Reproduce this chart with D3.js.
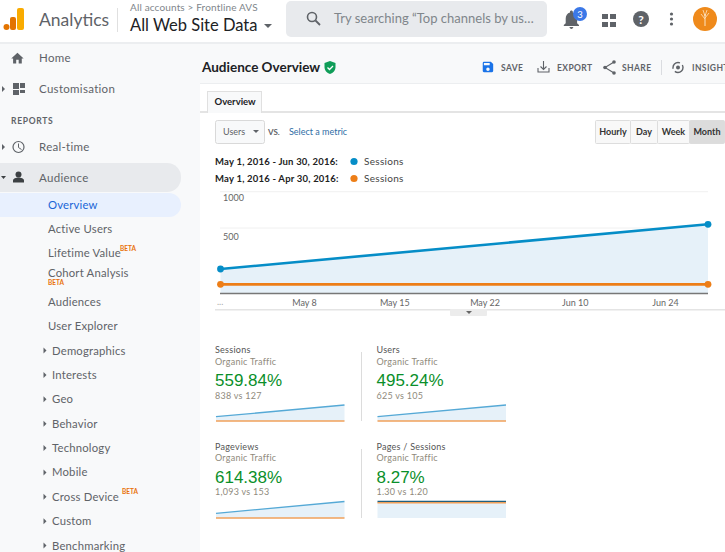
<!doctype html>
<html>
<head>
<meta charset="utf-8"/>
<title>Audience Overview</title>
<script src="https://d3js.org/d3.v7.min.js"></script>
<style>
  html, body { margin: 0; padding: 0; background: #fff; overflow: hidden; }
  svg { display: block; font-family: Lato, Roboto, sans-serif; }
</style>
</head>
<body>
<div id="chart"></div>
<script>
// ---- data ----
var periods = ["May", "Jun"];
var sessionsCurrent = [187, 551];
var sessionsPrevious = [70, 70];
var yTicks = [1000, 500];
var xTickLabels = ["May 8", "May 15", "May 22", "Jun 10", "Jun 24"];

var legendDates = ["May 1, 2016 - Jun 30, 2016:", "May 1, 2016 - Apr 30, 2016:"];
var intervals = ["Hourly", "Day", "Week", "Month"];

var cardNames = ["Sessions", "Users", "Pageviews", "Pages / Sessions"];
var cardPercents = ["559.84%", "495.24%", "614.38%", "8.27%"];
var cardCompares = ["838 vs 127", "625 vs 105", "1,093 vs 153", "1.30 vs 1.20"];
// sparkline heights on a 0-100 scale
var sparkCurrent = [[27, 100], [27, 100], [28, 100], [100, 100]];
var sparkPrevious = [[0, 0], [0, 0], [0, 0], [92, 92]];

var navTop = [["Home", 58], ["Customisation", 89], ["Real-time", 147], ["Audience", 178]];
var navAudience = [["Overview", 205], ["Active Users", 229], ["Lifetime Value", 253], ["Cohort Analysis", 273], ["Audiences", 302], ["User Explorer", 326]];
var navSub = ["Demographics", "Interests", "Geo", "Behavior", "Technology", "Mobile", "Cross Device", "Custom", "Benchmarking"];

var BLUE = "#058dc7", ORANGE = "#ed7e17", GREY = "#5f6368";

var svg = d3.select("#chart").append("svg").attr("width", 725).attr("height", 552);

function rect(x, y, w, h, fill, r) {
  return svg.append("rect").attr("x", x).attr("y", y).attr("width", w).attr("height", h)
    .attr("fill", fill).attr("rx", r || 0);
}
function text(x, y, s, size, color, weight) {
  return svg.append("text").attr("x", x).attr("y", y).text(s)
    .attr("font-size", size).attr("fill", color).attr("font-weight", weight || 400);
}
function icon(d, x, y, scale, fill) {
  return svg.append("path").attr("d", d).attr("fill", fill)
    .attr("transform", "translate(" + x + "," + y + ") scale(" + scale + ")");
}
function tri(points, fill) {
  svg.append("polygon").attr("points", points).attr("fill", fill);
}

// backgrounds
rect(0, 0, 725, 552, "#fff");
rect(0, 43, 200, 509, "#f8f9fa");
rect(200, 44, 525, 39, "#f8f9fa");
rect(0, 42, 725, 2, "#eceef0");
rect(200, 83, 525, 1, "#eceef0");

// header
rect(17, 8, 7, 22, "#f9ab00", 2);
rect(10, 17, 6, 13, "#e37400", 2);
svg.append("circle").attr("cx", 6.5).attr("cy", 27).attr("r", 3).attr("fill", "#e37400");
text(39, 26, "Analytics", 17.5, GREY);
rect(117, 8, 1, 24, "#e0e0e0");
text(130, 11, "All accounts > Frontline AVS", 10, "#80868b").attr("letter-spacing", 0.15);
text(130, 31, "All Web Site Data", 16.5, "#202124");
tri("264,24 272,24 268,28", GREY);
rect(286, 1, 261, 36, "#e8eaed", 5);
svg.append("circle").attr("cx", 312).attr("cy", 17).attr("r", 4.5).attr("fill", "none").attr("stroke", GREY).attr("stroke-width", 1.6);
svg.append("line").attr("x1", 315.5).attr("y1", 20.5).attr("x2", 320).attr("y2", 25).attr("stroke", GREY).attr("stroke-width", 1.8);
text(334, 23, "Try searching “Top channels by us…", 13, "#80868b");

// right side of header
icon("M12 22c1.1 0 2-.9 2-2h-4c0 1.1.9 2 2 2zm6-6v-5c0-3.07-1.63-5.64-4.5-6.32V4c0-.83-.67-1.5-1.5-1.5s-1.5.67-1.5 1.5v.68C7.64 5.36 6 7.92 6 11v5l-2 2v1h16v-1l-2-2z", 560, 8, 0.95, GREY);
svg.append("circle").attr("cx", 580).attr("cy", 14).attr("r", 7).attr("fill", "#3b78e7");
text(580, 17.5, "3", 9.5, "#fff").attr("text-anchor", "middle");
[602, 610].forEach(function (x) {
  [14, 22].forEach(function (y) { rect(x, y, 6, 5, GREY); });
});
svg.append("circle").attr("cx", 641).attr("cy", 19).attr("r", 8).attr("fill", GREY);
text(641, 23.5, "?", 12, "#fff", 700).attr("text-anchor", "middle");
[14, 19, 24].forEach(function (y) {
  svg.append("circle").attr("cx", 671.5).attr("cy", y).attr("r", 1.6).attr("fill", GREY);
});
svg.append("circle").attr("cx", 705).attr("cy", 19).attr("r", 12).attr("fill", "#ef8a1b");
svg.append("line").attr("x1", 705).attr("y1", 26).attr("x2", 705).attr("y2", 14).attr("stroke", "#fbe3c4").attr("stroke-width", 1);
svg.append("path").attr("d", "M705 19l-4-5M705 18l4-5M705 16l-2-6M705 16l2-6").attr("fill", "none").attr("stroke", "#fbe3c4").attr("stroke-width", 0.8);

// sidebar
rect(-15, 163, 196, 29, "#e8eaed", 14);
rect(-15, 193, 196, 24, "#e8f0fe", 12);

navTop.forEach(function (d) { text(39, d[1] + 4, d[0], 11.5, GREY).attr("letter-spacing", 0.3); });
text(11, 124, "REPORTS", 8.5, GREY, 700).attr("letter-spacing", 0.7);

navAudience.forEach(function (d, i) {
  text(48, d[1] + 4, d[0], 11.3, i === 0 ? "#1a66d6" : GREY).attr("letter-spacing", 0.2);
});
text(120, 251, "BETA", 6.5, "#e8710a", 700);
text(48, 284.5, "BETA", 6.5, "#e8710a", 700);

var navY = d3.scalePoint().domain(navSub).range([350.5, 545.5]);
navSub.forEach(function (d) {
  text(52, navY(d) + 4, d, 11.3, GREY).attr("letter-spacing", 0.2);
  tri("43.5," + (navY(d) - 3) + " 46.5," + navY(d) + " 43.5," + (navY(d) + 3), GREY);
});
text(122, 494, "BETA", 6.5, "#e8710a", 700);

// sidebar icons
icon("M10 20v-6h4v6h5v-8h3L12 3 2 12h3v8z", 10, 51, 0.62, GREY);
rect(13, 83, 6, 6, GREY); rect(20, 83, 5, 5, GREY); rect(13, 90, 6, 5, GREY); rect(20, 90, 5, 3, GREY);
tri("2,86 5,89 2,92", GREY);
svg.append("circle").attr("cx", 18.5).attr("cy", 147).attr("r", 5.5).attr("fill", "none").attr("stroke", GREY).attr("stroke-width", 1.2);
svg.append("path").attr("d", "M18.5 143.5V147.5L21.5 149.5").attr("fill", "none").attr("stroke", GREY);
tri("2,144 5,147 2,150", GREY);
svg.append("circle").attr("cx", 18.5).attr("cy", 174.5).attr("r", 3).attr("fill", "#3c4043");
svg.append("path").attr("d", "M13 182.5v-2c0-2 3-3 5.5-3s5.5 1 5.5 3v2z").attr("fill", "#3c4043");
tri("1,176 6,176 3.5,179", "#3c4043");

// page title row
text(202, 72, "Audience Overview", 13.5, "#202124", 700);
svg.append("path").attr("d", "M330 61l5.5 2v4c0 3.5-2.4 6-5.5 7-3.1-1-5.5-3.5-5.5-7v-4z").attr("fill", "#0f9d58");
svg.append("path").attr("d", "M327.5 67.5l2 2 3.5-3.5").attr("fill", "none").attr("stroke", "#fff").attr("stroke-width", 1.3);

icon("M17 3H5a2 2 0 0 0-2 2v14a2 2 0 0 0 2 2h14a2 2 0 0 0 2-2V7l-4-4zm-5 16a3 3 0 1 1 0-6 3 3 0 0 1 0 6zm3-10H5V5h10v4z", 481, 60, 0.58, "#1a73e8");
text(501, 71, "SAVE", 8.5, GREY, 700).attr("letter-spacing", 0.4);
svg.append("path").attr("d", "M538 68v4h11v-4M543.5 61v8M540.5 66.5l3 3 3-3").attr("fill", "none").attr("stroke", GREY).attr("stroke-width", 1.1);
text(557, 71, "EXPORT", 8.5, GREY, 700).attr("letter-spacing", 0.4);
svg.append("path").attr("d", "M614 62l-9 5.5 9 5.5").attr("fill", "none").attr("stroke", GREY).attr("stroke-width", 1.1);
[[614, 62], [605, 67.5], [614, 73]].forEach(function (p) {
  svg.append("circle").attr("cx", p[0]).attr("cy", p[1]).attr("r", 1.8).attr("fill", GREY);
});
text(622, 71, "SHARE", 8.5, GREY, 700).attr("letter-spacing", 0.4);
rect(661, 60, 1, 15, "#dadce0");
svg.append("circle").attr("cx", 678).attr("cy", 67.5).attr("r", 5).attr("fill", "none").attr("stroke", GREY).attr("stroke-width", 1.4).attr("stroke-dasharray", "11 3");
svg.append("circle").attr("cx", 678).attr("cy", 67.5).attr("r", 2).attr("fill", GREY);
text(692, 71, "INSIGHTS", 8.5, GREY, 700).attr("letter-spacing", 0.4);

// tab
rect(200, 111, 525, 2, "#e4e4e4");
rect(207.5, 91.5, 54, 21, "#f8f9fa").attr("stroke", "#e0e0e0");
rect(208, 110, 53, 3, "#f8f9fa");
text(214.5, 105, "Overview", 9.5, "#202124", 700);

// metric dropdown
rect(215.5, 120.5, 49, 23, "#f8f9fa", 2).attr("stroke", "#d9d9d9");
text(223, 135, "Users", 9, GREY);
tri("253,130 259,130 256,133", GREY);
text(268, 135, "VS.", 8, GREY, 700);
text(289, 135, "Select a metric", 9, "#2f6ea5");

// interval buttons
var btnEdges = [595, 630, 657, 689, 724];
intervals.forEach(function (d, i) {
  var on = d === "Month";
  rect(btnEdges[i] + 0.5, 120.5, btnEdges[i + 1] - btnEdges[i], 23, on ? "#dcdcdc" : "#f8f8f8", 1).attr("stroke", "#ddd");
  text((btnEdges[i] + btnEdges[i + 1]) / 2 + 0.5, 135, d, 9, "#333", 700).attr("text-anchor", "middle");
});

// legend
var legendColors = [BLUE, ORANGE];
legendDates.forEach(function (d, i) {
  var y = 161.5 + i * 17;
  text(215, y + 3, d, 9.5, "#222", 700).attr("letter-spacing", 0.2);
  svg.append("circle").attr("cx", 354).attr("cy", y).attr("r", 3.6).attr("fill", legendColors[i]);
  text(364, y + 3.5, "Sessions", 10, "#444").attr("letter-spacing", 0.3);
});

// main chart
var x = d3.scalePoint().domain(periods).range([220.5, 708]);
var y = d3.scaleLinear().domain([0, 500, 1000]).range([293.5, 228, 191.7]);
var xLabels = d3.scalePoint().domain(xTickLabels).range([304, 665]);

svg.append("g").selectAll("line").data(yTicks).join("line")
  .attr("x1", 220).attr("x2", 708)
  .attr("y1", function (d) { return y(d); }).attr("y2", function (d) { return y(d); })
  .attr("stroke", "#f0f0f0");
svg.append("g").selectAll("text").data(yTicks).join("text")
  .attr("x", 223).attr("y", function (d, i) { return y(d) + (i === 0 ? 9.5 : 12); })
  .attr("font-size", 9).attr("fill", "#666").text(function (d) { return d; });

var area = d3.area().x(function (d, i) { return x(periods[i]); }).y0(y(0)).y1(function (d) { return y(d); });
var line = d3.line().x(function (d, i) { return x(periods[i]); }).y(function (d) { return y(d); });

svg.append("path").datum(sessionsCurrent).attr("d", area).attr("fill", "#e6f1f9");

var xAxis = d3.axisBottom(xLabels).tickSize(0).tickPadding(6);
var xG = svg.append("g").attr("transform", "translate(0,293.5)").call(xAxis);
xG.select(".domain").remove();
xG.selectAll("text").attr("font-size", 9).attr("fill", "#666").attr("font-family", "Lato, Roboto, sans-serif");
text(217, 305, "...", 9, "#aaa");
svg.append("line").attr("x1", 220).attr("x2", 708).attr("y1", 293.5).attr("y2", 293.5).attr("stroke", "#777").attr("stroke-width", 1.5);

[[sessionsCurrent, BLUE], [sessionsPrevious, ORANGE]].forEach(function (s) {
  svg.append("path").datum(s[0]).attr("d", line).attr("fill", "none").attr("stroke", s[1]).attr("stroke-width", 2.6);
  svg.append("g").selectAll("circle").data(s[0]).join("circle")
    .attr("cx", function (d, i) { return x(periods[i]); })
    .attr("cy", function (d) { return y(d); })
    .attr("r", 3.4).attr("fill", s[1]);
});

// collapse handle under the chart
rect(215, 309, 510, 1.5, "#e4e4e4");
rect(450, 309, 37, 7, "#ececec", 1);
tri("466,311 472,311 469,314", "#666");

// metric cards
var cardX = [215, 376.5, 215, 376.5];
var cardY = [350, 350, 446.5, 446.5];
var sparkW = 128.5;

cardNames.forEach(function (name, i) {
  var cx = cardX[i], cy = cardY[i];
  text(cx, cy + 3, name, 9, "#555").attr("letter-spacing", 0.25);
  text(cx, cy + 14.5, "Organic Traffic", 9, "#8f8a7c").attr("letter-spacing", 0.25);
  text(cx, cy + 36, cardPercents[i], 17, "#0a8f2a").attr("font-family", "Liberation Sans, Arial, sans-serif");
  text(cx, cy + 48.5, cardCompares[i], 9, "#8f8a7c").attr("letter-spacing", 0.25);

  var sy = d3.scaleLinear().domain([0, 100]).range(i < 2 ? [421, 405] : [518, 501.5]);
  var sx = d3.scaleLinear().domain([0, 1]).range([cx + 1, cx + sparkW + 1]);
  var sArea = d3.area().x(function (d, k) { return sx(k); }).y0(sy(0)).y1(function (d) { return sy(d); });
  var sLine = d3.line().x(function (d, k) { return sx(k); }).y(function (d) { return sy(d); });
  var flat = i === 3;

  svg.append("path").datum(sparkCurrent[i]).attr("d", sArea).attr("fill", "#e6f1f9");
  svg.append("path").datum(sparkCurrent[i]).attr("d", sLine).attr("fill", "none")
    .attr("stroke", flat ? "#1f5f80" : "#55a9d6").attr("stroke-width", 1.3);
  svg.append("path").datum(sparkPrevious[i]).attr("d", sLine).attr("fill", "none")
    .attr("stroke", "#f0a05a").attr("stroke-width", 1.4);
});

rect(361, 352, 1, 69, "#dcdcdc");
rect(361, 449, 1, 69, "#dcdcdc");
</script>
</body>
</html>
